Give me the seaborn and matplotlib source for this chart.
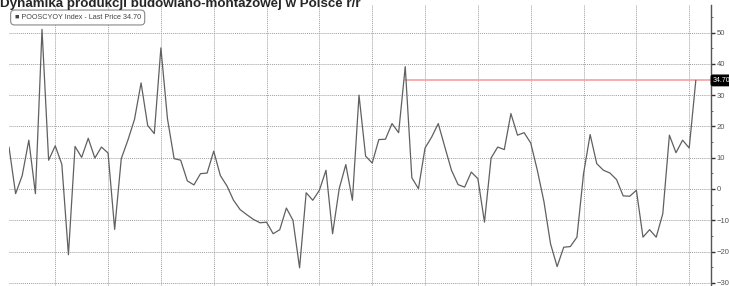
import matplotlib
matplotlib.use('Agg')
import matplotlib.pyplot as plt
import numpy as np
import pandas as pd
import seaborn as sns

title = 'Dynamika produkcji budowlano-montażowej w Polsce r/r'
legend_text = 'POOSCYOY Index - Last Price 34.70'
last_price = 34.70

values = [13.4, -1.5, 4.3, 15.6, -1.5, 51.0, 9.2, 13.8, 7.9, -21.0,
          13.6, 10.1, 16.2, 9.9, 13.4, 11.5, -12.9, 9.7, 15.6, 22.2,
          33.9, 20.3, 17.7, 45.1, 22.4, 9.7, 9.2, 2.6, 1.3, 4.9,
          5.1, 12.1, 4.3, 1.0, -3.6, -6.6, -8.2, -9.7, -10.8, -10.6,
          -14.3, -13.0, -6.1, -10.0, -25.2, -1.2, -3.6, -0.4, 6.0, -14.3,
          0.1, 7.8, -3.6, 30.0, 10.5, 8.3, 15.8, 15.9, 20.9, 18.0,
          39.1, 3.6, 0.1, 13.1, 16.6, 20.9, 13.4, 6.0, 1.4, 0.6,
          5.4, 3.3, -10.6, 9.9, 13.4, 12.6, 24.1, 17.2, 18.0, 14.7,
          6.0, -4.0, -17.5, -24.8, -18.6, -18.4, -15.4, 4.9, 17.4, 8.1,
          6.0, 5.1, 3.0, -2.2, -2.3, -0.4, -15.4, -13.0, -15.4, -7.9,
          17.2, 11.6, 15.6, 13.1, 34.7]
peak_index = 60  # red line starts at this point

df = pd.DataFrame({'t': np.arange(len(values)), 'v': values})

sns.set_style('white')
plt.rcParams['font.family'] = ['Liberation Sans', 'DejaVu Sans']

fig = plt.figure(figsize=(7.29, 2.86), dpi=100)
ax = fig.add_axes([9 / 729, 0, 702 / 729, 281 / 286])

sns.lineplot(data=df, x='t', y='v', ax=ax, color='#606060', linewidth=0.9)

ax.plot([peak_index, 106.3], [last_price, last_price], color='#f4a0a0',
        linewidth=1.2, clip_on=False, zorder=1)

ax.set_xlim(0, 106.3)
ax.set_ylim(-31, 58.8)
ax.set_xlabel('')
ax.set_ylabel('')

ax.set_xticks(np.arange(7, 106, 8))
ax.set_xticklabels([])
ax.tick_params(axis='x', length=0)
ax.set_yticks(np.arange(-30, 51, 10))
ax.set_yticks(np.arange(-30, 56, 5), minor=True)
ax.yaxis.tick_right()
ax.tick_params(axis='y', which='major', direction='out', length=3, width=1,
               color='#333333', labelsize=5.5, labelcolor='#555555', pad=1)
ax.tick_params(axis='y', which='minor', direction='out', length=1.5, width=0.6,
               color='#555555')
ax.grid(True, which='major', color='#a0a0a0', linestyle=(0, (1, 1)), linewidth=0.7)

for s in ['top', 'left', 'bottom']:
    ax.spines[s].set_visible(False)
ax.spines['right'].set_color('#555555')
ax.spines['right'].set_linewidth(1.0)

ax.text(106.3 + 0.3, last_price, '34.70', fontsize=5, color='white',
        va='center', ha='left', clip_on=False,
        bbox=dict(boxstyle='round,pad=0.25', fc='black', ec='black'))

ax.text(0.008, 0.968, '\u25a0 ' + legend_text, transform=ax.transAxes,
        fontsize=5.2, color='#444444', va='top', ha='left',
        bbox=dict(boxstyle='round,pad=0.55', fc='white', ec='#888888', lw=0.8))

fig.text(0.0, 1 - 7 / 286, title, fontsize=9.6, fontweight='bold',
         ha='left', va='baseline')

fig.savefig('out.png', dpi=100)
